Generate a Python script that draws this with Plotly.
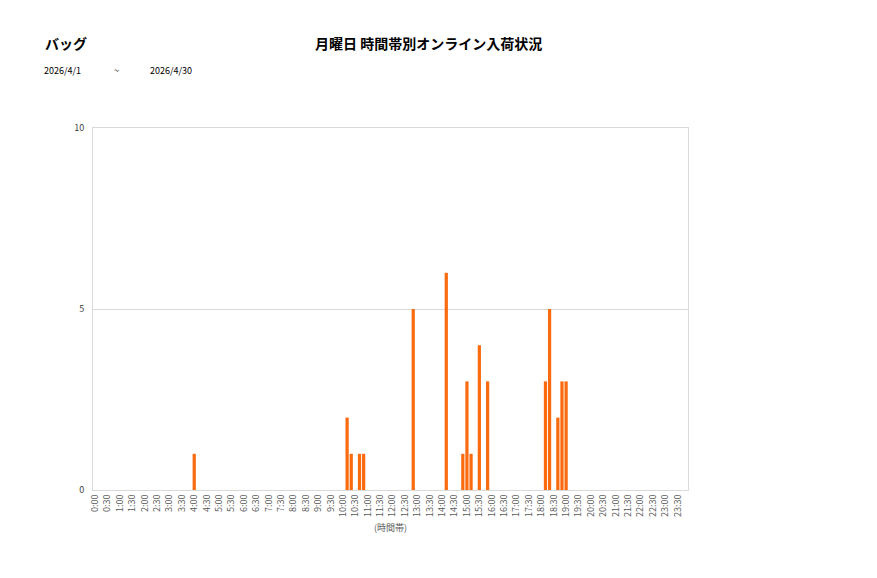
import plotly.graph_objects as go

# 10-minute time slots, 0:00 .. 23:50
time_slots = [f"{h}:{m:02d}" for h in range(24) for m in (0, 10, 20, 30, 40, 50)]

# values per slot, one row per hour (6 slots each)
arrivals = [
    0, 0, 0, 0, 0, 0,   # 0
    0, 0, 0, 0, 0, 0,   # 1
    0, 0, 0, 0, 0, 0,   # 2
    0, 0, 0, 0, 0, 0,   # 3
    1, 0, 0, 0, 0, 0,   # 4
    0, 0, 0, 0, 0, 0,   # 5
    0, 0, 0, 0, 0, 0,   # 6
    0, 0, 0, 0, 0, 0,   # 7
    0, 0, 0, 0, 0, 0,   # 8
    0, 0, 0, 0, 0, 0,   # 9
    0, 2, 1, 0, 1, 1,   # 10
    0, 0, 0, 0, 0, 0,   # 11
    0, 0, 0, 0, 0, 5,   # 12
    0, 0, 0, 0, 0, 0,   # 13
    0, 6, 0, 0, 0, 1,   # 14
    3, 1, 0, 4, 0, 3,   # 15
    0, 0, 0, 0, 0, 0,   # 16
    0, 0, 0, 0, 0, 0,   # 17
    0, 3, 5, 0, 2, 3,   # 18
    3, 0, 0, 0, 0, 0,   # 19
    0, 0, 0, 0, 0, 0,   # 20
    0, 0, 0, 0, 0, 0,   # 21
    0, 0, 0, 0, 0, 0,   # 22
    0, 0, 0, 0, 0, 0,   # 23
]

tick_labels = [f"{h}:{m:02d}" for h in range(24) for m in (0, 30)]
y_ticks = [0, 5, 10]

title_text = "月曜日 時間帯別オンライン入荷状況"
category_text = "バッグ"
date_from = "2026/4/1"
date_sep = "~"
date_to = "2026/4/30"
x_title = "(時間帯)"

font_family = "Noto Sans CJK JP, Noto Sans, sans-serif"

W, H = 877, 578
OFF = 8  # page body offset
l, t = 93 - OFF, 128 - OFF
r = W - (688 - OFF)
b = H - (490 - OFF)
pw, ph = W - l - r, H - t - b


def px(xp):
    return (xp - OFF - l) / pw


def py(yp):
    return 1 + (t - (yp - OFF)) / ph


fig = go.Figure()
fig.add_trace(go.Bar(
    x=time_slots,
    y=arrivals,
    marker=dict(color="#FA6A0F", line=dict(width=0)),
))

hdr = dict(color="#000000", family=font_family)
fig.update_layout(
    width=W, height=H,
    margin=dict(l=l, r=r, t=t, b=b),
    paper_bgcolor="white",
    plot_bgcolor="white",
    bargap=0.22,
    showlegend=False,
    font=dict(family=font_family, color="#595959", size=9),
    xaxis=dict(
        type="category",
        categoryorder="array",
        categoryarray=time_slots,
        tickmode="array",
        tickvals=tick_labels,
        ticktext=tick_labels,
        tickangle=-90,
        tickfont=dict(size=9, color="#595959"),
        showgrid=False,
        showline=True,
        linecolor="#d9d9d9",
        linewidth=1,
        mirror=True,
        ticks="",
        title=dict(text=x_title, font=dict(size=9, color="#595959"), standoff=8),
    ),
    yaxis=dict(
        range=[0, 10],
        tickmode="array",
        tickvals=y_ticks,
        tickfont=dict(size=9, color="#404040"),
        showgrid=True,
        gridcolor="#d9d9d9",
        showline=True,
        linecolor="#d9d9d9",
        linewidth=1,
        mirror=True,
        zeroline=False,
        ticks="",
        ticklabelstandoff=6,
    ),
    annotations=[
        dict(text=f"<b>{title_text}</b>", x=px(428), y=py(43), xanchor="center",
             font=dict(size=14, **hdr)),
        dict(text=f"<b>{category_text}</b>", x=px(43), y=py(43), xanchor="left",
             font=dict(size=14, **hdr)),
        dict(text=date_from, x=px(42), y=py(70), xanchor="left",
             font=dict(size=9, **hdr)),
        dict(text=date_sep, x=px(112), y=py(70), xanchor="left",
             font=dict(size=9, **hdr)),
        dict(text=date_to, x=px(148), y=py(70), xanchor="left",
             font=dict(size=9, **hdr)),
    ],
)
for a in fig.layout.annotations:
    a.update(xref="paper", yref="paper", showarrow=False, yanchor="middle")

fig.write_html("out.html")
